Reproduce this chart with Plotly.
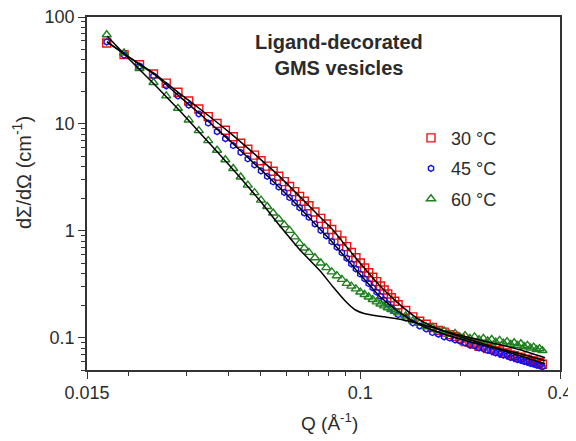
import plotly.graph_objects as go

# ---------------- data ----------------
q = [0.0172, 0.0194, 0.0216, 0.0238, 0.0260, 0.0282, 0.0304, 0.0326, 0.0348, 0.0370,
     0.0392, 0.0414, 0.0436, 0.0458, 0.0480, 0.0502, 0.0524, 0.0546, 0.0568, 0.0590,
     0.0612, 0.0634, 0.0656, 0.0678, 0.0700,
     0.073, 0.076, 0.079, 0.082, 0.085, 0.088, 0.091, 0.094, 0.097, 0.100,
     0.103, 0.106, 0.109, 0.112, 0.115, 0.118, 0.121, 0.124, 0.127, 0.130,
     0.137, 0.144, 0.151, 0.158, 0.165, 0.172, 0.179, 0.186, 0.193, 0.200,
     0.207, 0.214, 0.221, 0.228, 0.235, 0.242, 0.249, 0.256, 0.263, 0.270,
     0.277, 0.284, 0.291, 0.298, 0.305, 0.312, 0.319, 0.326, 0.333, 0.340,
     0.347, 0.354]

i30 = [57.1, 44.5, 35.8, 29.3, 24.1, 19.8, 16.4, 13.8, 11.7, 10.1,
       8.73, 7.59, 6.60, 5.79, 5.11, 4.52, 4.03, 3.61, 3.24, 2.89,
       2.60, 2.33, 2.10, 1.89, 1.72,
       1.50, 1.31, 1.16, 1.03, 0.912, 0.805, 0.713, 0.628, 0.561, 0.501,
       0.450, 0.406, 0.368, 0.335, 0.305, 0.280, 0.257, 0.237, 0.220, 0.204,
       0.180, 0.157, 0.143, 0.134, 0.125, 0.117, 0.113, 0.107, 0.103, 0.0985,
       0.0925, 0.091, 0.0875, 0.0835, 0.084, 0.0795, 0.0785, 0.0755, 0.0752, 0.0715,
       0.0720, 0.0690, 0.0680, 0.0655, 0.0660, 0.0628, 0.0630, 0.0605, 0.0606, 0.0585,
       0.0590, 0.0565]

i45 = [58.4, 44.0, 34.8, 28.1, 22.7, 18.3, 15.0, 12.4, 10.2, 8.47,
       7.29, 6.28, 5.41, 4.72, 4.14, 3.64, 3.24, 2.88, 2.57, 2.29,
       2.05, 1.83, 1.65, 1.47, 1.34,
       1.16, 1.01, 0.896, 0.795, 0.704, 0.625, 0.555, 0.491, 0.441, 0.395,
       0.357, 0.322, 0.294, 0.268, 0.245, 0.225, 0.207, 0.191, 0.177, 0.165,
       0.153, 0.138, 0.129, 0.121, 0.112, 0.108, 0.102, 0.0995, 0.0955, 0.093,
       0.0895, 0.0855, 0.0845, 0.0805, 0.079, 0.0765, 0.0748, 0.0722, 0.0712, 0.0688,
       0.0680, 0.0655, 0.0648, 0.0625, 0.0622, 0.0600, 0.0596, 0.0575, 0.0572, 0.0555,
       0.0550, 0.0535]

i60 = [68.3, 46.1, 33.0, 24.4, 18.3, 14.0, 10.9, 8.66, 6.98, 5.68,
       4.63, 3.83, 3.19, 2.68, 2.28, 1.94, 1.69, 1.47, 1.29, 1.14,
       1.01, 0.879, 0.764, 0.691, 0.630,
       0.561, 0.501, 0.453, 0.414, 0.381, 0.352, 0.323, 0.304, 0.287, 0.268,
       0.254, 0.241, 0.228, 0.217, 0.207, 0.199, 0.191, 0.184, 0.177, 0.171,
       0.160, 0.144, 0.137, 0.127, 0.125, 0.116, 0.116, 0.108, 0.110, 0.101,
       0.105, 0.0985, 0.102, 0.0960, 0.0990, 0.0935, 0.0965, 0.0910, 0.0945, 0.0890,
       0.0920, 0.0870, 0.0900, 0.0850, 0.0880, 0.0825, 0.0850, 0.0800, 0.0820, 0.0775,
       0.0790, 0.0760]

q_fit = [0.01724, 0.02022, 0.02405, 0.02861, 0.03287, 0.04047, 0.04985, 0.05727,
         0.06579, 0.07560, 0.08272, 0.08994, 0.09640, 0.1033, 0.1147, 0.1318,
         0.1514, 0.1738, 0.2142, 0.2638, 0.3030, 0.3605]
fit30 = [58.4, 41.4, 29.3, 19.1, 13.8, 8.24, 4.71, 3.20, 2.08, 1.35, 1.02, 0.740,
         0.571, 0.442, 0.305, 0.203, 0.146, 0.119, 0.0958, 0.0789, 0.0709, 0.0610]
fit45 = [58.4, 41.4, 28.7, 17.9, 12.4, 6.94, 3.80, 2.52, 1.64, 1.04, 0.772, 0.571,
         0.442, 0.348, 0.242, 0.171, 0.132, 0.1114, 0.0918, 0.0772, 0.0679, 0.0571]
fit60 = [66.4, 39.6, 23.1, 13.2, 8.24, 4.05, 1.91, 1.11, 0.664, 0.423, 0.300, 0.222,
         0.183, 0.168, 0.159, 0.149, 0.135, 0.119, 0.100, 0.0860, 0.0772, 0.0650]

series_names = ["30 °C", "45 °C", "60 °C"]
x_tick_vals = [0.015, 0.1, 0.4]
x_tick_text = ["0.015", "0.1", "0.4"]
x_minor_vals = [0.02, 0.03, 0.04, 0.05, 0.06, 0.07, 0.08, 0.09, 0.2, 0.3]
y_tick_vals = [0.1, 1, 10, 100]
y_tick_text = ["0.1", "1", "10", "100"]
y_minor_vals = [0.05, 0.06, 0.07, 0.08, 0.09, 0.2, 0.3, 0.4, 0.5, 0.6, 0.7, 0.8, 0.9,
                2, 3, 4, 5, 6, 7, 8, 9, 20, 30, 40, 50, 60, 70, 80, 90]

# ---------------- figure ----------------
FONT = "Liberation Sans, Arial, sans-serif"
TXT = "#2b2b2b"

fig = go.Figure()

styles = [
    dict(symbol="square-open", color="#ee1111", size=8),
    dict(symbol="hexagon-open", color="#1010ee", size=6),
    dict(symbol="triangle-up-open", color="#1f7f1f", size=8),
]
for name, vals, st, grp in zip(series_names, [i30, i45, i60], styles, ["a", "b", "c"]):
    fig.add_trace(go.Scatter(
        x=q, y=vals, mode="markers", name=name, legendgroup=grp,
        marker=dict(symbol=st["symbol"], size=st["size"], color=st["color"],
                    line=dict(color=st["color"], width=1.4)),
    ))

for vals in [fit30, fit45, fit60]:
    fig.add_trace(go.Scatter(
        x=q_fit, y=vals, mode="lines", showlegend=False,
        line=dict(color="black", width=1.5, shape="spline", smoothing=0.5),
        hoverinfo="skip",
    ))

fig.add_annotation(
    x=0.532, y=0.892, xref="paper", yref="paper", xanchor="center", yanchor="middle",
    text="<b>Ligand-decorated</b><br><b>GMS vesicles</b>",
    showarrow=False, align="center",
    font=dict(family=FONT, size=20, color=TXT),
)
# axis titles as annotations for precise placement
fig.add_annotation(
    x=-0.138, y=0.56, xref="paper", yref="paper", xanchor="center", yanchor="middle",
    text="dΣ/dΩ (cm<sup>-1</sup>)", textangle=-90, showarrow=False,
    font=dict(family=FONT, size=20, color=TXT),
)
fig.add_annotation(
    x=0.512, y=-0.148, xref="paper", yref="paper", xanchor="center", yanchor="middle",
    text="Q (Å<sup>-1</sup>)", showarrow=False,
    font=dict(family=FONT, size=19, color=TXT),
)

axis_common = dict(
    type="log", showgrid=False, zeroline=False,
    showline=True, linecolor="#333333", linewidth=1.5, mirror=True,
    ticks="outside", ticklen=7, tickwidth=1.2, tickcolor="#333333",
    tickfont=dict(family=FONT, size=18, color=TXT),
    ticklabeloverflow="allow",
)

fig.update_xaxes(
    **axis_common,
    range=[-1.8239, -0.39794],
    tickmode="array", tickvals=x_tick_vals, ticktext=x_tick_text,
    ticklabelstandoff=-1,
    minor=dict(tickmode="array", tickvals=x_minor_vals, ticks="outside",
               ticklen=4, tickwidth=1.2, tickcolor="#333333"),
)
fig.update_yaxes(
    **axis_common,
    range=[-1.30103, 2.0],
    tickmode="array", tickvals=y_tick_vals, ticktext=y_tick_text,
    minor=dict(tickmode="array", tickvals=y_minor_vals, ticks="outside",
               ticklen=4, tickwidth=1.2, tickcolor="#333333"),
)

# page body adds an 8px offset; margins compensate so the plot area lands where the reference has it
fig.update_layout(
    width=576, height=441,
    margin=dict(l=79, r=24, t=9, b=79, autoexpand=False),
    paper_bgcolor="white", plot_bgcolor="white",
    font=dict(family=FONT, color=TXT),
    legend=dict(
        x=0.685, y=0.709, xanchor="left", yanchor="top",
        bgcolor="rgba(0,0,0,0)", borderwidth=0,
        traceorder="grouped", tracegroupgap=4,
        font=dict(family=FONT, size=18, color=TXT),
    ),
)

fig.write_html("out.html")
